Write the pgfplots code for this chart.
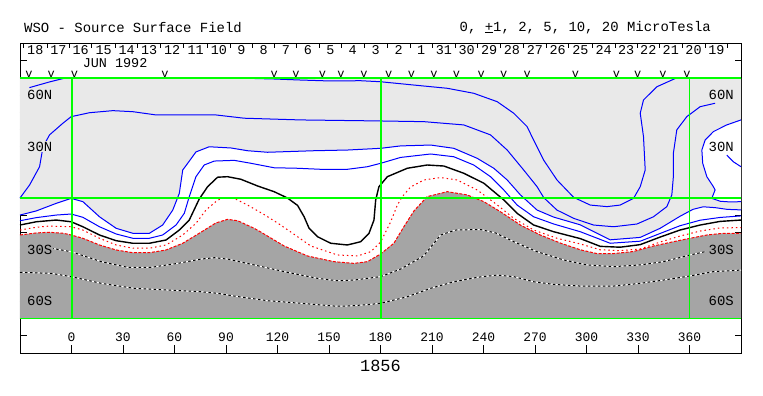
\documentclass[border=0pt]{standalone}
\usepackage{pgfplots}
\pgfplotsset{compat=1.18}
\usepackage{fontspec}
\setmainfont{Liberation Mono}
\definecolor{lgray}{RGB}{233,233,233}
\definecolor{dgray}{RGB}{165,165,165}
\definecolor{gr}{RGB}{0,255,0}
\definecolor{bl}{RGB}{0,0,255}
\definecolor{rd}{RGB}{255,0,0}
\begin{document}
\begin{tikzpicture}[font=\fontsize{14}{14}\selectfont]
\begin{axis}[name=ax, scale only axis, width=721bp, height=309.6bp,
  xmin=-30, xmax=390, ymin=-90, ymax=90, clip=false,
  axis line style={black, line width=0.9bp},
  xtick={0,30,...,360}, xtick pos=lower, ytick={-80,-70,...,80}, yticklabels=\empty,
  tick align=inside,
  xtick style={black, line width=0.9bp, /pgfplots/major tick length=7.5bp},
  ytick style={black, line width=0.9bp, /pgfplots/major tick length=6.5bp},
  xticklabel style={anchor=center, yshift=15.3bp, font=\fontsize{13}{13}\selectfont},
  /pgf/number format/assume math mode=true]
% light gray (positive beyond +2)
\addplot[fill=lgray, draw=none] coordinates {(-30,-9.8) (-20.5,-7.4) (-8.9,-3.0) (-0.2,-0.1) (6.6,-2.0) (16.3,-10.8) (26.0,-17.5) (35.7,-20.4) (45.4,-20.4) (53.1,-15.6) (59.0,-6.9) (62.8,2.8) (64.8,16.4) (67.7,20.3) (72.5,26.9) (80.2,29.9) (92.9,29.2) (102.6,27.6) (114.2,26.7) (141.3,27.6) (160.7,28.0) (180.1,29.0) (191.7,30.4) (209.2,30.9) (222.7,29.0) (236.3,23.2) (246.0,17.4) (253.8,10.6) (261.5,1.9) (271.2,-6.9) (280.9,-11.0) (296.4,-15.5) (313.8,-24.2) (331.3,-22.8) (342.9,-17.5) (354.5,-10.5) (362,-6.5) (368,-5.0) (375,-5.5) (382,-6.5) (390,-6.8) (390,70) (-30,70)} -- cycle;
% white bulge
\addplot[fill=white, draw=none] coordinates {(390,45.5) (381.7,42.6) (373.9,38.7) (369.1,33.8) (367.2,28.0) (367.7,20.3) (370.1,12.5) (373.9,6.7) (374.9,4.8) (373.0,-0.1) (378,-1.8) (384,-2.2) (390,-2.0)} -- cycle;
% dark gray (negative beyond -2)
\addplot[fill=dgray, draw=none] coordinates {(-30,-21.4) (-20.5,-20.2) (-13.0,-19.8) (-4.8,-20.4) (-0.2,-21.4) (6.6,-23.3) (16.3,-27.2) (26.0,-30.1) (35.7,-31.7) (45.4,-31.7) (55.1,-30.1) (64.8,-26.2) (74.4,-20.4) (84.1,-14.4) (90.9,-12.3) (96.8,-13.1) (106.4,-17.5) (110.3,-19.7) (123.9,-27.8) (137.5,-33.6) (152.9,-36.9) (164.6,-37.9) (172.4,-36.9) (180.1,-32.4) (187.8,-26.2) (193.6,-16.6) (199.5,-7.4) (207.2,0.9) (218.9,3.8) (230.5,1.9) (240.2,-2.0) (249.9,-7.9) (261.5,-15.6) (273.1,-21.4) (284.8,-26.1) (296.4,-30.0) (306.1,-32.2) (315.8,-32.2) (327.4,-31.0) (339.0,-27.8) (350.6,-25.3) (360.4,-23.3) (370.1,-21.4) (379.7,-20.4) (390,-20.4) (390,-70) (-30,-70)} -- cycle;
% -5 and -10 contours (black dashed on white)
\addplot[white, line width=1bp] coordinates {(-11.8,-29.1) (-0.2,-31.1) (17.3,-36.9) (32.8,-40.2) (46.3,-40.2) (61.9,-37.9) (75.4,-35.4) (83.2,-34.6) (90.9,-35.4) (106.4,-38.8) (123.9,-42.7) (143.3,-46.6) (154.9,-48.0) (164.6,-47.6) (180.1,-45.6) (191.7,-41.2) (205.1,-33.6) (215.0,-21.4) (223.8,-18.5) (238.3,-18.2) (247.0,-20.2) (257.6,-25.3) (271.2,-31.1) (286.7,-35.9) (300.3,-38.8) (315.8,-39.8) (331.3,-38.8) (344.8,-36.9) (360.4,-33.0) (369.1,-31.1)};
\addplot[black, line width=1bp, dash pattern=on 2.5bp off 2.5bp] coordinates {(-11.8,-29.1) (-0.2,-31.1) (17.3,-36.9) (32.8,-40.2) (46.3,-40.2) (61.9,-37.9) (75.4,-35.4) (83.2,-34.6) (90.9,-35.4) (106.4,-38.8) (123.9,-42.7) (143.3,-46.6) (154.9,-48.0) (164.6,-47.6) (180.1,-45.6) (191.7,-41.2) (205.1,-33.6) (215.0,-21.4) (223.8,-18.5) (238.3,-18.2) (247.0,-20.2) (257.6,-25.3) (271.2,-31.1) (286.7,-35.9) (300.3,-38.8) (315.8,-39.8) (331.3,-38.8) (344.8,-36.9) (360.4,-33.0) (369.1,-31.1)};
\addplot[white, line width=1bp] coordinates {(-30,-43.1) (-11.8,-43.7) (-0.2,-45.6) (17.3,-49.5) (36.6,-52.4) (56.1,-53.4) (75.4,-54.4) (85.1,-55.3) (94.8,-56.9) (114.2,-59.6) (133.6,-61.1) (152.9,-62.7) (160.7,-62.7) (172.4,-61.9) (180.1,-61.1) (195.6,-57.3) (209.2,-52.4) (222.7,-48.6) (236.3,-46.0) (248.0,-44.7) (257.6,-45.6) (269.2,-48.6) (280.9,-50.1) (296.4,-51.1) (315.8,-51.1) (331.3,-49.5) (344.8,-47.6) (360.4,-45.2) (373.9,-42.7) (390,-41.8)};
\addplot[black, line width=1bp, dash pattern=on 2.5bp off 2.5bp] coordinates {(-30,-43.1) (-11.8,-43.7) (-0.2,-45.6) (17.3,-49.5) (36.6,-52.4) (56.1,-53.4) (75.4,-54.4) (85.1,-55.3) (94.8,-56.9) (114.2,-59.6) (133.6,-61.1) (152.9,-62.7) (160.7,-62.7) (172.4,-61.9) (180.1,-61.1) (195.6,-57.3) (209.2,-52.4) (222.7,-48.6) (236.3,-46.0) (248.0,-44.7) (257.6,-45.6) (269.2,-48.6) (280.9,-50.1) (296.4,-51.1) (315.8,-51.1) (331.3,-49.5) (344.8,-47.6) (360.4,-45.2) (373.9,-42.7) (390,-41.8)};
% -2 (gray boundary, red dashed)
\addplot[rd, line width=1bp, dash pattern=on 3bp off 1.5bp] coordinates {(-30,-21.4) (-20.5,-20.2) (-13.0,-19.8) (-4.8,-20.4) (-0.2,-21.4) (6.6,-23.3) (16.3,-27.2) (26.0,-30.1) (35.7,-31.7) (45.4,-31.7) (55.1,-30.1) (64.8,-26.2) (74.4,-20.4) (84.1,-14.4) (90.9,-12.3) (96.8,-13.1) (106.4,-17.5) (110.3,-19.7) (123.9,-27.8) (137.5,-33.6) (152.9,-36.9) (164.6,-37.9) (172.4,-36.9) (180.1,-32.4) (187.8,-26.2) (193.6,-16.6) (199.5,-7.4) (207.2,0.9) (218.9,3.8) (230.5,1.9) (240.2,-2.0) (249.9,-7.9) (261.5,-15.6) (273.1,-21.4) (284.8,-26.1) (296.4,-30.0) (306.1,-32.2) (315.8,-32.2) (327.4,-31.0) (339.0,-27.8) (350.6,-25.3) (360.4,-23.3) (370.1,-21.4) (379.7,-20.4) (390,-20.4)};
% -1 (red dotted)
\addplot[rd, line width=1bp, dash pattern=on 1.5bp off 3bp] coordinates {(-30,-18.5) (-20.5,-16.9) (-12.8,-16.2) (-0.2,-16.6) (6.6,-18.5) (16.3,-23.3) (26.0,-27.2) (35.7,-29.1) (45.4,-29.1) (55.1,-27.2) (64.8,-21.4) (72.5,-14.6) (78.3,-6.9) (84.1,-2.0) (87.1,-0.1) (94.8,-0.1) (102.6,-4.0) (112.2,-9.5) (120.0,-14.4) (127.8,-19.7) (139.4,-27.8) (154.9,-33.0) (166.5,-33.6) (174.3,-31.1) (180.1,-25.5) (185.9,-13.8) (189.8,-4.0) (192.7,0.9) (197.5,6.5) (205.3,10.6) (215.0,12.0) (224.7,10.6) (236.3,4.8) (248.0,-3.9) (257.6,-11.7) (269.2,-18.5) (282.8,-23.3) (296.4,-26.6) (308.0,-30.0) (319.6,-30.5) (331.3,-29.5) (342.9,-25.5) (354.5,-22.0) (366.2,-19.1) (377.8,-17.3) (390,-17.1)};
% neutral line
\addplot[black, line width=1.4bp] coordinates {(-30,-15.6) (-20.5,-13.7) (-8.9,-12.7) (-0.2,-13.7) (6.6,-16.6) (16.3,-21.4) (26.0,-24.7) (35.7,-26.2) (45.4,-26.2) (55.1,-24.3) (62.8,-18.5) (68.6,-12.7) (74.4,-0.5) (79.3,6.7) (85.1,12.2) (90.9,12.5) (98.7,11.0) (108.4,7.1) (118.0,3.8) (125.8,0.1) (131.7,-4.2) (135.5,-10.8) (138.4,-17.5) (143.3,-22.4) (151.0,-26.2) (160.7,-27.2) (168.5,-25.3) (173.3,-20.4) (176.2,-12.7) (177.2,-1.0) (179.1,6.7) (184.0,12.5) (195.6,17.4) (207.2,19.3) (216.9,18.7) (228.5,14.5) (240.2,8.7) (251.8,-1.0) (259.6,-8.8) (269.2,-15.6) (280.9,-19.5) (296.4,-23.5) (308.0,-28.0) (319.6,-28.5) (331.3,-27.0) (342.9,-22.6) (354.5,-18.5) (366.2,-15.6) (377.8,-13.5) (390,-12.7)};
% +1
\addplot[bl, line width=1bp] coordinates {(-30,-13.1) (-20.5,-11.3) (-8.9,-9.8) (-0.2,-9.2) (6.6,-11.1) (16.3,-16.6) (26.0,-20.8) (35.7,-23.3) (45.4,-23.3) (53.1,-21.4) (60.9,-15.6) (65.7,-8.8) (68.6,0.9) (72.5,12.5) (77.3,19.3) (83.2,21.6) (94.8,22.0) (104.5,20.3) (118.0,17.7) (131.7,17.4) (145.2,16.8) (160.7,16.8) (172.4,18.3) (180.1,20.3) (191.7,23.7) (209.2,25.7) (222.7,24.1) (234.3,19.3) (244.1,12.5) (251.8,4.8) (259.6,-4.0) (269.2,-10.8) (280.9,-15.0) (296.4,-19.5) (313.8,-26.2) (331.3,-25.0) (342.9,-20.5) (354.5,-16.0) (366.2,-12.8) (377.8,-11.2) (390,-10.3)};
% +2
\addplot[bl, line width=1bp] coordinates {(-30,-9.8) (-20.5,-7.4) (-8.9,-3.0) (-0.2,-0.1) (6.6,-2.0) (16.3,-10.8) (26.0,-17.5) (35.7,-20.4) (45.4,-20.4) (53.1,-15.6) (59.0,-6.9) (62.8,2.8) (64.8,16.4) (67.7,20.3) (72.5,26.9) (80.2,29.9) (92.9,29.2) (102.6,27.6) (114.2,26.7) (141.3,27.6) (160.7,28.0) (180.1,29.0) (191.7,30.4) (209.2,30.9) (222.7,29.0) (236.3,23.2) (246.0,17.4) (253.8,10.6) (261.5,1.9) (271.2,-6.9) (280.9,-11.0) (296.4,-15.5) (313.8,-24.2) (331.3,-22.8) (342.9,-17.5) (354.5,-10.5) (362,-6.5) (368,-5.0) (375,-5.5) (382,-6.5) (390,-6.8)};
% bulge line
\addplot[bl, line width=1bp] coordinates {(390,45.5) (381.7,42.6) (373.9,38.7) (369.1,33.8) (367.2,28.0) (367.7,20.3) (370.1,12.5) (373.9,6.7) (374.9,4.8) (373.0,-0.1) (378,-1.8) (384,-2.2) (390,-2.0)};
\addplot[bl, line width=1bp] coordinates {(381.7,25.1) (385.5,21.2) (390,18.3)};
% higher positive contours
\addplot[bl, line width=1bp] coordinates {(-24.5,64.3) (-12.8,67.6) (-3.1,70)};
\addplot[bl, line width=1bp] coordinates {(98.7,69.8) (117.9,69.3) (133.6,68.7) (149.1,68.2) (168.5,68.3) (180.1,67.7) (199.3,65.8) (218.9,63.9) (234.3,61.0) (248.0,56.1) (257.6,49.4) (265.4,41.6) (269.2,33.8) (275.0,22.2) (282.8,10.6) (292.5,0.5) (302.2,-4.0) (311.9,-4.9) (319.6,-4.0) (327.4,-0.1) (331.3,6.7) (334.2,16.4) (333.2,35.8) (331.3,49.4) (333.2,57.1) (341.0,64.8) (352.6,70.0)};
\addplot[bl, line width=1bp] coordinates {(-30,0.1) (-24.4,7.7) (-18.6,18.3) (-16.6,29.9) (-12.8,36.8) (-5.0,43.6) (-0.2,47.4) (10.5,49.7) (24.1,50.9) (35.7,50.3) (49.3,48.4) (84.1,48.4) (100.6,46.5) (133.6,45.5) (180.1,44.9) (205.3,44.5) (228.5,42.6) (244.1,36.8) (253.8,28.0) (263.4,16.4) (271.2,6.7) (275.1,0.3) (282.8,-6.9) (292.5,-11.7) (304.1,-15.6) (315.8,-16.6) (329.4,-15.0) (339.0,-10.8) (346.8,-4.9) (349.7,1.9) (350.6,12.5) (350.6,26.1) (352.6,39.7) (358.4,47.4) (366.2,53.2) (374.9,55.2)};
% latitude labels
\addplot[only marks, mark=none, nodes near coords, point meta=explicit symbolic,
  every node near coord/.append style={anchor=west, inner sep=0.5pt, xshift=6.5bp, fill=lgray, font=\fontsize{14}{14}\selectfont}]
  table[meta=l] {x y l
-30 60 60N
-30 30 30N
};
\addplot[only marks, mark=none, nodes near coords, point meta=explicit symbolic,
  every node near coord/.append style={anchor=west, inner sep=0.5pt, xshift=6.5bp, fill=dgray, font=\fontsize{14}{14}\selectfont}]
  table[meta=l] {x y l
-30 -30 30S
-30 -60 60S
};
\addplot[only marks, mark=none, nodes near coords, point meta=explicit symbolic,
  every node near coord/.append style={anchor=east, inner sep=0.5pt, xshift=-6.5bp, fill=lgray, font=\fontsize{14}{14}\selectfont}]
  table[meta=l] {x y l
390 60 60N
};
\addplot[only marks, mark=none, nodes near coords, point meta=explicit symbolic,
  every node near coord/.append style={anchor=east, inner sep=0.5pt, xshift=-6.5bp, fill=white, font=\fontsize{14}{14}\selectfont}]
  table[meta=l] {x y l
390 30 30N
};
\addplot[only marks, mark=none, nodes near coords, point meta=explicit symbolic,
  every node near coord/.append style={anchor=east, inner sep=0.5pt, xshift=-6.5bp, fill=dgray, font=\fontsize{14}{14}\selectfont}]
  table[meta=l] {x y l
390 -30 30S
390 -60 60S
};
% observation marks
\addplot[only marks, mark=none, nodes near coords={v}, every node near coord/.append style={anchor=center, inner sep=0pt, font=\fontsize{12}{12}\selectfont}] coordinates {(-24.8,72.3) (-11.8,72.3) (1.7,72.3) (54.5,72.3) (118.1,72.3) (130.7,72.3) (146.2,72.3) (156.9,72.3) (170.4,72.3) (184.8,72.3) (198.0,72.3) (211.1,72.3) (224.3,72.3) (238.7,72.3) (251.8,72.3) (265.4,72.3) (293.5,72.3) (317.4,72.3) (329.8,72.3) (344.5,72.3) (358.5,72.3)};
% Carrington day labels
\addplot[only marks, mark=none, nodes near coords, point meta=explicit symbolic,
  every node near coord/.append style={anchor=center, inner sep=0pt, font=\fontsize{13.5}{13.5}\selectfont}]
  table[meta=l] {x y l
-21.1 86.2 18
-7.65 86.2 17
5.35 86.2 16
18.75 86.2 15
32.1 86.2 14
45.2 86.2 13
58.6 86.2 12
72.35 86.2 11
85.9 86.2 10
99 86.2 9
112 86.2 8
124.9 86.2 7
137.75 86.2 6
150.75 86.2 5
163.85 86.2 4
177.15 86.2 3
190.55 86.2 2
203.7 86.2 1
216.95 86.2 31
230.2 86.2 30
243.3 86.2 29
256.5 86.2 28
269.9 86.2 27
283.15 86.2 26
296.4 86.2 25
310 86.2 24
323.1 86.2 23
336 86.2 22
349.1 86.2 21
362.35 86.2 20
375.7 86.2 19
};
\node[anchor=center, inner sep=0pt, font=\fontsize{13.5}{13.5}\selectfont] at (axis cs:25.4,78.4) {JUN 1992};
% green reference lines
\addplot[gr, line width=1.6bp, forget plot] coordinates {(-30,70) (390,70)};
\addplot[gr, line width=1.6bp, forget plot] coordinates {(-30,-70) (390,-70)};
\addplot[gr, line width=1.6bp, forget plot] coordinates {(-30,0) (390,0)};
\addplot[gr, line width=2bp, forget plot] coordinates {(0.2,-70) (0.2,70)};
\addplot[gr, line width=1.8bp, forget plot] coordinates {(180.1,-70) (180.1,70)};
\addplot[gr, line width=1.2bp, forget plot] coordinates {(360.1,-70) (360.1,70)};
\end{axis}
\begin{axis}[scale only axis, width=721bp, height=309.6bp,
  xmin=-30, xmax=390, ymin=-90, ymax=90,
  axis line style={draw=none}, ytick=\empty,
  xtick pos=upper, tick align=inside, xticklabels=\empty,
  xtick style={black, line width=0.9bp, /pgfplots/major tick length=5bp},
  xtick={-28.1,-14.1,-1.2,11.9,25.6,38.6,51.8,65.4,79.3,92.5,105.5,118.5,131.3,144.2,157.3,170.4,183.9,197.2,210.2,223.7,236.7,249.9,263.1,276.7,289.6,303.2,316.8,329.4,342.6,355.6,369.1,382.3}]
\end{axis}
\node[anchor=west, inner sep=0pt, font=\fontsize{14}{14}\selectfont] at ([xshift=4bp, yshift=16bp]ax.north west) {WSO - Source Surface Field};
\node[anchor=east, inner sep=0pt, font=\fontsize{14}{14}\selectfont] at ([xshift=-30bp, yshift=16bp]ax.north east) {0, \underline{+}1, 2, 5, 10, 20 MicroTesla};
\node[anchor=center, inner sep=0pt, font=\fontsize{17}{17}\selectfont] at ([yshift=-12.5bp]ax.south) {1856};
\path ([xshift=-20bp,yshift=-43bp]ax.south west) rectangle ([xshift=22bp,yshift=43.4bp]ax.north east);
\end{tikzpicture}
\end{document}
